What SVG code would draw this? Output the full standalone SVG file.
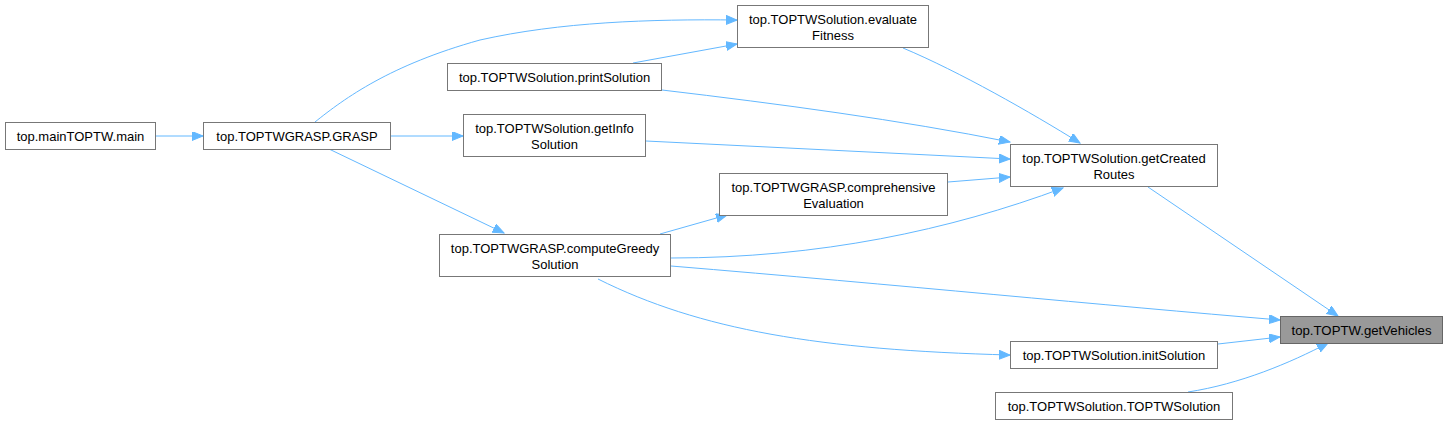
<svg xmlns="http://www.w3.org/2000/svg" width="1448" height="424" viewBox="0 0 1448 424">
<style>
  .node rect { fill: #ffffff; stroke: #777777; stroke-width: 1; }
  .node.hl rect { fill: #999999; stroke: #666666; }
  .node text { font-family: "Liberation Sans", Arial, sans-serif; font-size: 13px; fill: #000000; text-anchor: middle; }
  .edges path { fill: none; stroke: #63b8ff; stroke-width: 1; marker-end: url(#ah); }
</style>
<defs>
  <marker id="ah" markerWidth="12" markerHeight="10" refX="11" refY="4.5" orient="auto" markerUnits="userSpaceOnUse">
    <path d="M0,0 L11,4.5 L0,9 Z" fill="#63b8ff" stroke="#63b8ff" stroke-width="1"/>
  </marker>
</defs>
<rect x="0" y="0" width="1448" height="424" fill="#ffffff"/>
<g id="edges" class="edges">
  <path d="M156,136 L203,136"/>
  <path d="M315,122 C345,98 390,65 480,40 C560,22 650,19 737,20"/>
  <path d="M391,136 L463,136"/>
  <path d="M329,149 L504,233"/>
  <path d="M633,63 L737,44"/>
  <path d="M903,48 C960,72 1030,112 1080,143"/>
  <path d="M662,90 C780,104 900,120 1010,142"/>
  <path d="M646,141 L1010,159"/>
  <path d="M948,182 L1010,177"/>
  <path d="M660,234 L727,215"/>
  <path d="M671,258 C820,258 950,230 1063,188"/>
  <path d="M671,266 C900,285 1100,305 1280,320"/>
  <path d="M598,279 C700,330 820,350 1010,355"/>
  <path d="M1148,187 L1338,316"/>
  <path d="M1218,344 L1280,337"/>
  <path d="M1188,392 C1240,384 1290,363 1328,343"/>
</g>
<g id="node_main" class="node">
  <rect x="5.5" y="122.5" width="150" height="27"/>
  <text x="80.5" y="141">top.mainTOPTW.main</text>
</g>
<g id="node_grasp" class="node">
  <rect x="203.5" y="122.5" width="187" height="27"/>
  <text x="297" y="141">top.TOPTWGRASP.GRASP</text>
</g>
<g id="node_evaluateFitness" class="node">
  <rect x="737.5" y="5.5" width="191" height="42"/>
  <text x="833" y="23.5">top.TOPTWSolution.evaluate</text>
  <text x="833" y="39.5">Fitness</text>
</g>
<g id="node_printSolution" class="node">
  <rect x="447.5" y="63.5" width="214" height="27"/>
  <text x="554.5" y="82">top.TOPTWSolution.printSolution</text>
</g>
<g id="node_getInfoSolution" class="node">
  <rect x="463.5" y="114.5" width="182" height="42"/>
  <text x="554.5" y="132.5">top.TOPTWSolution.getInfo</text>
  <text x="554.5" y="148.5">Solution</text>
</g>
<g id="node_comprehensiveEvaluation" class="node">
  <rect x="719.5" y="173.5" width="228" height="42"/>
  <text x="833.5" y="191.5">top.TOPTWGRASP.comprehensive</text>
  <text x="833.5" y="207.5">Evaluation</text>
</g>
<g id="node_computeGreedySolution" class="node">
  <rect x="439.5" y="234.5" width="231" height="42"/>
  <text x="555" y="252.5">top.TOPTWGRASP.computeGreedy</text>
  <text x="555" y="268.5">Solution</text>
</g>
<g id="node_getCreatedRoutes" class="node">
  <rect x="1010.5" y="144.5" width="207" height="42"/>
  <text x="1114" y="162.5">top.TOPTWSolution.getCreated</text>
  <text x="1114" y="178.5">Routes</text>
</g>
<g id="node_getVehicles" class="node hl">
  <rect x="1280.5" y="316.5" width="162" height="27"/>
  <text x="1361.5" y="335" textLength="140" lengthAdjust="spacingAndGlyphs">top.TOPTW.getVehicles</text>
</g>
<g id="node_initSolution" class="node">
  <rect x="1010.5" y="341.5" width="207" height="27"/>
  <text x="1114" y="360">top.TOPTWSolution.initSolution</text>
</g>
<g id="node_TOPTWSolution" class="node">
  <rect x="995.5" y="392.5" width="237" height="27"/>
  <text x="1114" y="411">top.TOPTWSolution.TOPTWSolution</text>
</g>
</svg>
